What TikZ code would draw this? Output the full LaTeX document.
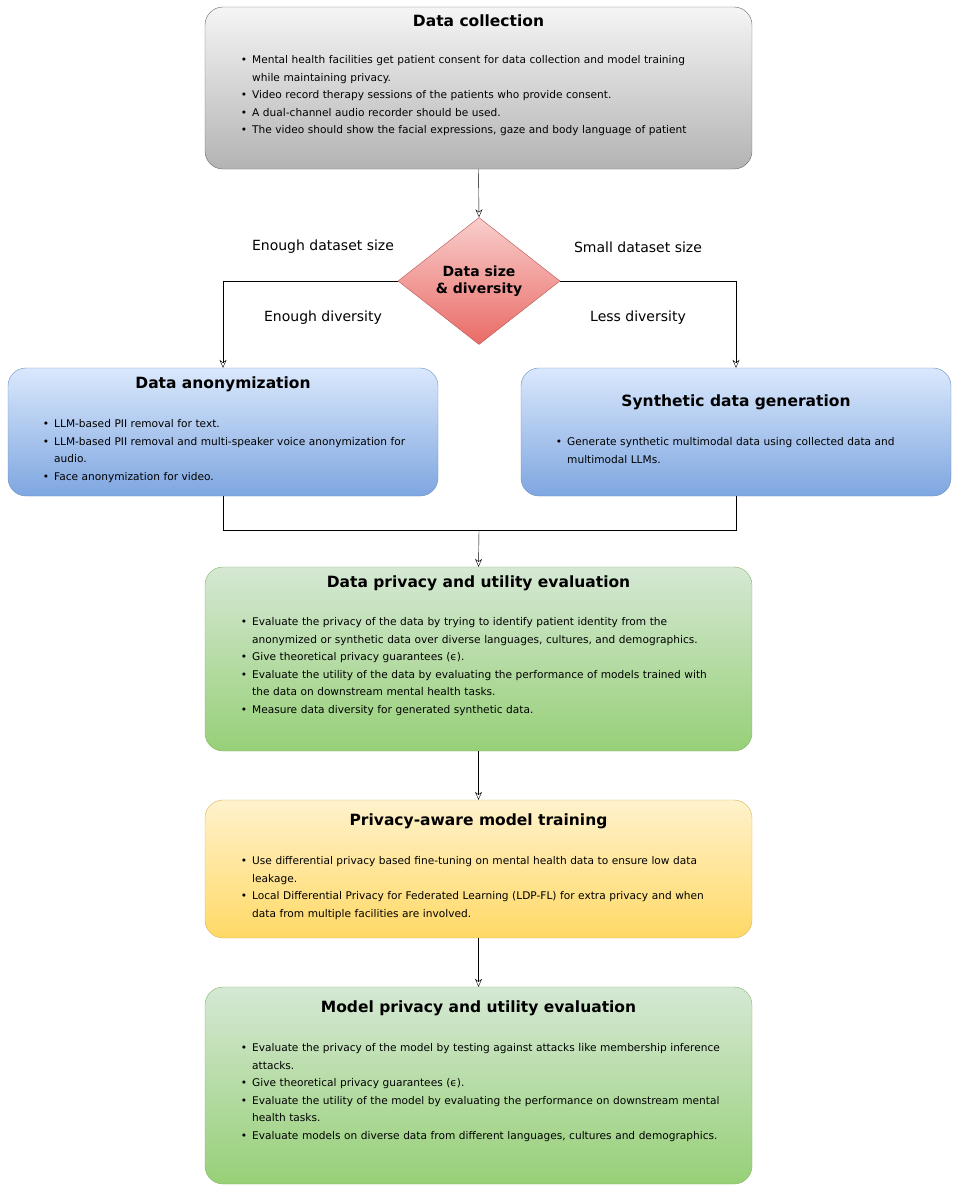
\documentclass[tikz,border=0pt]{standalone}
\usepackage{fontspec}
\setmainfont{DejaVu Sans}
\usepackage{enumitem}
\usetikzlibrary{shapes.geometric,arrows.meta}
\definecolor{gT}{HTML}{F5F5F5}\definecolor{gB}{HTML}{B3B3B3}
\definecolor{rT}{HTML}{F8CECC}\definecolor{rB}{HTML}{EA6B66}
\definecolor{bT}{HTML}{DAE8FC}\definecolor{bB}{HTML}{7EA6E0}
\definecolor{grT}{HTML}{D5E8D4}\definecolor{grB}{HTML}{97D077}
\definecolor{yT}{HTML}{FFF2CC}\definecolor{yB}{HTML}{FFD966}
\definecolor{gS}{HTML}{666666}\definecolor{rS}{HTML}{B85450}\definecolor{bS}{HTML}{6C8EBF}
\definecolor{grS}{HTML}{82B366}\definecolor{yS}{HTML}{D6B656}
\tikzset{
 box/.style={rounded corners=18pt,draw=#1S,top color=#1T,bottom color=#1B,inner sep=0pt},
 ttl/.style={font=\fontsize{15.5}{18}\selectfont\bfseries,anchor=north},
 lst/.style={anchor=north west,text width=#1,inner sep=0pt,font=\fontsize{10.6}{17.5}\selectfont,align=left},
 lab/.style={font=\fontsize{14}{17}\selectfont},
 arr/.style={-{Stealth[open,length=8pt,width=7pt]},black},
 ln/.style={black}
}
\newcommand{\bl}[1]{\begin{itemize}[leftmargin=20pt,itemsep=0pt,topsep=0pt,parsep=0pt,partopsep=0pt]#1\end{itemize}}
\begin{document}
\begin{tikzpicture}[x=1pt,y=-1pt]
\useasboundingbox (0,0) rectangle (959,1192);
% data collection
\node[box=g,minimum width=547pt,minimum height=162pt] (dc) at (478.5,88) {};
\node[ttl] (dct) at (478.5,11) {Data collection};
\node[lst=480pt] (dcl) at (232,46) {\bl{\item Mental health facilities get patient consent for data collection and model training while maintaining privacy.
\item Video record therapy sessions of the patients who provide consent.
\item A dual-channel audio recorder should be used.
\item The video should show the facial expressions, gaze and body language of patient}};
% diamond
\node[diamond,draw=rS,top color=rT,bottom color=rB,minimum width=162pt,minimum height=127pt,inner sep=0pt,aspect=1.27,font=\fontsize{14}{17}\selectfont\bfseries,align=center] (dm) at (479,281) {Data size\\\& diversity};
% anonymization
\node[box=b,minimum width=430pt,minimum height=128pt] (an) at (223,432) {};
\node[ttl] (ant) at (223,373) {Data anonymization};
\node[lst=380pt] (anl) at (34,410) {\bl{\item LLM-based PII removal for text.
\item LLM-based PII removal and multi-speaker voice anonymization for audio.
\item Face anonymization for video.}};
% synthetic
\node[box=b,minimum width=430pt,minimum height=128pt] (sy) at (736,432) {};
\node[ttl] (syt) at (736,391) {Synthetic data generation};
\node[lst=390pt] (syl) at (547,428) {\bl{\item Generate synthetic multimodal data using collected data and multimodal LLMs.}};
% data privacy eval
\node[box=gr,minimum width=547pt,minimum height=184pt] (de) at (478.5,659) {};
\node[ttl] (det) at (478.5,572) {Data privacy and utility evaluation};
\node[lst=495pt] (del) at (232,608) {\bl{\item Evaluate the privacy of the data by trying to identify patient identity from the anonymized or synthetic data over diverse languages, cultures, and demographics.
\item Give theoretical privacy guarantees (ϵ).
\item Evaluate the utility of the data by evaluating the performance of models trained with the data on downstream mental health tasks.
\item Measure data diversity for generated synthetic data.}};
% privacy-aware training
\node[box=y,minimum width=547pt,minimum height=138pt] (pt) at (478.5,869) {};
\node[ttl] (ptt) at (478.5,810) {Privacy-aware model training};
\node[lst=495pt] (ptl) at (232,847) {\bl{\item Use differential privacy based fine-tuning on mental health data to ensure low data leakage.
\item Local Differential Privacy for Federated Learning (LDP-FL) for extra privacy and when data from multiple facilities are involved.}};
% model eval
\node[box=gr,minimum width=547pt,minimum height=197pt] (me) at (478.5,1085.5) {};
\node[ttl] (met) at (478.5,997) {Model privacy and utility evaluation};
\node[lst=495pt] (mel) at (232,1034) {\bl{\item Evaluate the privacy of the model by testing against attacks like membership inference attacks.
\item Give theoretical privacy guarantees (ϵ).
\item Evaluate the utility of the model by evaluating the performance on downstream mental health tasks.
\item Evaluate models on diverse data from different languages, cultures and demographics.}};
% connectors
\draw[arr] (dc.south) -- (dm.north);
\draw[arr] (dm.west) -| (an.north);
\draw[arr] (dm.east) -| (sy.north);
\coordinate (j) at (479,530);
\draw[ln] (an.south) |- (j);
\draw[ln] (sy.south) |- (j);
\draw[arr] (j) -- (de.north);
\draw[arr] (de.south) -- (pt.north);
\draw[arr] (pt.south) -- (me.north);
% labels
\node[lab] (l1) at (323,247) {Enough dataset size};
\node[lab] (l2) at (638,247) {Small dataset size};
\node[lab] (l3) at (323,318) {Enough diversity};
\node[lab] (l4) at (638,318) {Less diversity};
\end{tikzpicture}
\end{document}
